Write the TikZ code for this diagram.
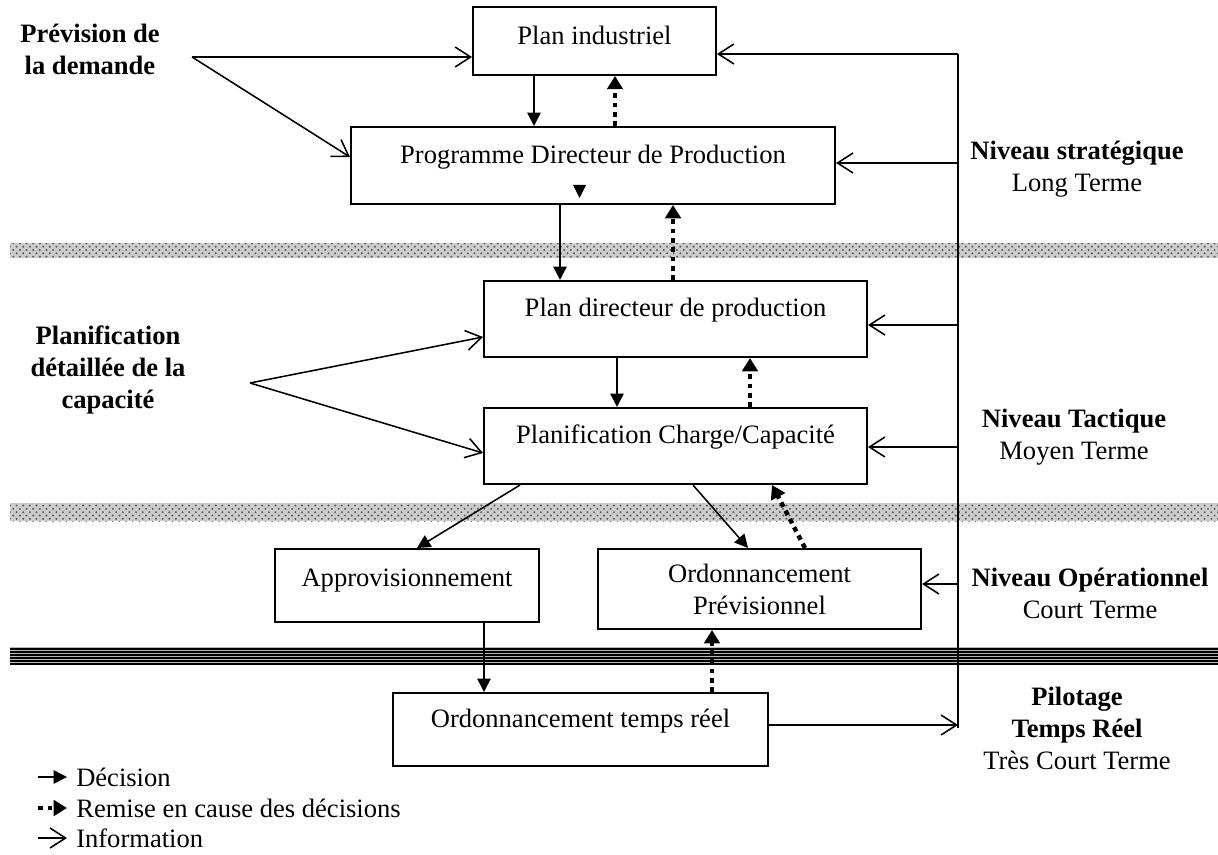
\documentclass[tikz,border=0pt,12pt]{standalone}
\usepackage{fontspec}
\setmainfont{Liberation Serif}
\usepackage{tikz}
\usetikzlibrary{patterns,arrows.meta}
\tikzset{
    boite/.style={ draw, line width=0.9pt, inner sep=0pt, align=center },
    texte/.style={ text height=8pt, text depth=#1 },
    decision/.style={ line width=0.7pt, -{Triangle[length=6pt,width=6pt]} },
    remise/.style={ line width=2pt, dash pattern=on 2.2pt off 2pt, -{Triangle[length=6pt,width=7pt]} },
    info/.style={ line width=0.7pt, -{Straight Barb[length=7pt,width=9pt]} },
    bande/.style={ pattern=crosshatch dots, pattern color=gray!70!black },
    niveau/.style={ align=center }
}

\begin{document}
\begin{tikzpicture}[x=0.452pt,y=-0.452pt]
        \useasboundingbox (0,0) rectangle (1218,854);
        %\draw[step=100, very thin, gray, dashed] (0,0) grid (1218,854);

        \fill[gray!40] (10,243) rectangle (1218,258);
        \fill[bande] (10,243) rectangle (1218,258);
        \fill[gray!40] (10,503) rectangle (1218,521);
        \fill[bande] (10,503) rectangle (1218,521);
        \fill[gray!55] (10,647) rectangle (1218,664);
        \draw[line width=0.5pt] (10,649) -- (1218,649);
        \draw[line width=0.5pt] (10,652) -- (1218,652);
        \draw[line width=0.5pt] (10,655) -- (1218,655);
        \draw[line width=0.5pt] (10,658) -- (1218,658);
        \draw[line width=0.5pt] (10,661) -- (1218,661);
        \draw[line width=0.5pt] (10,664) -- (1218,664);

        \node[boite, texte=4.4pt, minimum width=109.8pt, minimum height=30.7pt] (plan) at (594.5,41) {Plan industriel};
        \node[boite, texte=10.2pt, minimum width=218.8pt, minimum height=34.8pt] (pdp) at (593,165.5) {Programme Directeur de Production};
        \node[boite, texte=10pt, minimum width=173.1pt, minimum height=34.4pt] (pdir) at (675.5,319) {Plan directeur de production};
        \node[boite, texte=10.4pt, minimum width=173.1pt, minimum height=34.4pt] (pcc) at (675.5,446) {Planification Charge/Capacité};
        \node[boite, texte=7.5pt, minimum width=119.3pt, minimum height=33pt] (appro) at (407,585.5) {Approvisionnement};
        \node[boite, minimum width=146pt, minimum height=36.2pt] (oprev) at (759.5,589) {Ordonnancement\\Prévisionnel};
        \node[boite, texte=9.4pt, minimum width=169.5pt, minimum height=33pt] (otr) at (580.5,729.5) {Ordonnancement temps réel};
        \fill (573,185) -- (586,185) -- (579.5,198) -- cycle;

        \node[niveau, font=\bfseries] (prev) at (90,49) {Prévision de\\la demande};
        \node[niveau, font=\bfseries] (capa) at (108,370) {Planification\\détaillée de la\\capacité};
        \node[niveau] (strat) at (1077,169) {\textbf{Niveau stratégique}\\Long Terme};
        \node[niveau] (tact) at (1074,437) {\textbf{Niveau Tactique}\\Moyen Terme};
        \node[niveau] (oper) at (1090,593) {\textbf{Niveau Opérationnel}\\Court Terme};
        \node[niveau] (pilot) at (1077,728) {\textbf{Pilotage}\\\textbf{Temps Réel}\\Très Court Terme};

        \coordinate (dem) at (192,57);
        \coordinate (cap) at (250,383);
        \draw[info] (dem) -- (plan.west |- dem);
        \draw[info] (dem) -- (pdp.west |- 0,157);
        \draw[info] (cap) -- (pdir.west |- 0,337);
        \draw[info] (cap) -- (pcc.west |- 0,453);

        \coordinate (haut) at (958,54);
        \coordinate (bas) at (958,728);
        \draw[line width=0.7pt] (haut) -- (bas);
        \draw[info] (haut) -- (plan.east |- haut);
        \draw[info] (haut |- 0,163) -- (pdp.east |- 0,163);
        \draw[info] (haut |- 0,325) -- (pdir.east |- 0,325);
        \draw[info] (haut |- 0,447) -- (pcc.east |- 0,447);
        \draw[info] (haut |- 0,584) -- (oprev.east |- 0,584);
        \draw[info] (otr.east |- 0,725) -- (haut |- 0,725);

        \draw[decision] (plan.south -| 534,0) -- (pdp.north -| 534,0);
        \draw[decision] (pdp.south -| 560,0) -- (pdir.north -| 560,0);
        \draw[decision] (pdir.south -| 617,0) -- (pcc.north -| 617,0);
        \draw[decision] (pcc.south -| 520,0) -- (appro.north -| 417,0);
        \draw[decision] (pcc.south -| 693,0) -- (oprev.north -| 748,0);
        \draw[decision] (appro.south -| 484,0) -- (otr.north -| 484,0);

        \draw[remise] (pdp.north -| 615,0) -- (plan.south -| 615,0);
        \draw[remise] (pdir.north -| 673,0) -- (pdp.south -| 673,0);
        \draw[remise] (pcc.north -| 750,0) -- (pdir.south -| 750,0);
        \draw[remise] (oprev.north -| 805,0) -- (pcc.south -| 772,0);
        \draw[remise] (otr.north -| 712,0) -- (oprev.south -| 712,0);

        \node[anchor=west] (ldec) at (67,777) {Décision};
        \node[anchor=west] (lrem) at (67,808) {Remise en cause des décisions};
        \node[anchor=west] (linf) at (67,838) {Information};
        \draw[decision] ([xshift=-13pt]ldec.west) -- (ldec.west);
        \draw[remise] ([xshift=-13pt]lrem.west) -- (lrem.west);
        \draw[info] ([xshift=-13pt]linf.west) -- (linf.west);

    \end{tikzpicture}
\end{document}
